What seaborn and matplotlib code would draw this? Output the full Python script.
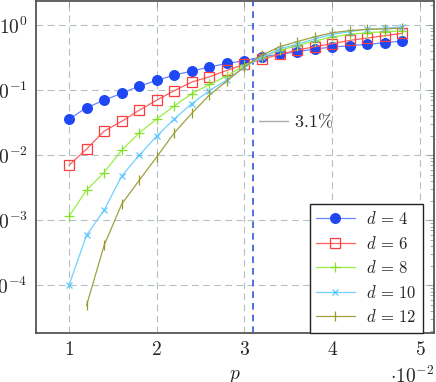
import matplotlib
matplotlib.use("Agg")
import matplotlib.pyplot as plt
import matplotlib.ticker as mticker
from matplotlib.lines import Line2D
import numpy as np
import pandas as pd
import seaborn as sns

# physical error rate p
P_ALL = [0.010, 0.012, 0.014, 0.016, 0.018, 0.020, 0.022, 0.024, 0.026, 0.028,
         0.030, 0.032, 0.034, 0.036, 0.038, 0.040, 0.042, 0.044, 0.046, 0.048]
P_D12 = P_ALL[1:]

# logical error rate, one list per distance
ERR_D4 = [0.0358, 0.0535, 0.070, 0.089, 0.115, 0.141, 0.170, 0.196, 0.226, 0.257,
          0.282, 0.326, 0.354, 0.389, 0.427, 0.459, 0.480, 0.505, 0.535, 0.567]
ERR_D6 = [0.0070, 0.0124, 0.0234, 0.033, 0.049, 0.070, 0.098, 0.133, 0.160, 0.201,
          0.248, 0.296, 0.354, 0.412, 0.464, 0.516, 0.580, 0.630, 0.685, 0.745]
ERR_D8 = [0.00115, 0.0029, 0.0054, 0.0119, 0.022, 0.036, 0.057, 0.088, 0.122, 0.165,
          0.240, 0.318, 0.410, 0.480, 0.567, 0.654, 0.720, 0.760, 0.790, 0.810]
ERR_D10 = [0.0001, 0.00059, 0.00143, 0.00475, 0.0100, 0.0196, 0.036, 0.062, 0.098, 0.143,
           0.228, 0.318, 0.430, 0.505, 0.610, 0.720, 0.790, 0.860, 0.890, 0.940]
ERR_D12 = [0.000049, 0.00041, 0.00176, 0.0041, 0.0094, 0.022, 0.044, 0.084, 0.138,
           0.228, 0.345, 0.464, 0.554, 0.660, 0.760, 0.820, 0.860, 0.870, 0.900]

THRESHOLD = 0.031
X_TICKS = [0.01, 0.02, 0.03, 0.04, 0.05]
X_TICK_LABELS = ["$1$", "$2$", "$3$", "$4$", "$5$"]
Y_TICKS = [1e-4, 1e-3, 1e-2, 1e-1, 1e0]

series = [
    (r"$d\,=\,4$", P_ALL, ERR_D4, "#1f48f5", "#6a86ff", "o", True, 7.0),
    (r"$d\,=\,6$", P_ALL, ERR_D6, "#ff3b3b", "#ff6060", "s", False, 7.0),
    (r"$d\,=\,8$", P_ALL, ERR_D8, "#84e02a", "#98ee44", "+", True, 7.0),
    (r"$d\,=\,10$", P_ALL, ERR_D10, "#5cc8ff", "#70d0ff", "x", True, 5.0),
    (r"$d\,=\,12$", P_D12, ERR_D12, "#9a9a2a", "#a0a040", "|", True, 7.0),
]

sns.set_style("white")
plt.rcParams["mathtext.fontset"] = "cm"
plt.rcParams["font.family"] = ["DejaVu Serif"]

fig = plt.figure(figsize=(4.36, 3.82), dpi=100)
ax = fig.add_axes([36 / 436, 1 - 332.7 / 382, 398 / 436, 332.2 / 382])

for label, xs, ys, mcol, lcol, mk, filled, ms in series:
    df = pd.DataFrame({"p": xs, "err": ys})
    sns.lineplot(data=df, x="p", y="err", ax=ax, color=lcol, linewidth=0.9,
                 marker=mk, markersize=ms, markeredgewidth=0.9,
                 markerfacecolor=mcol if filled else "none",
                 markeredgecolor=mcol, label=label, legend=False)

ax.axvline(THRESHOLD, color="#3355dd", linewidth=1.2, dashes=(4, 3), zorder=1)

ax.set_yscale("log")
ax.set_xlim(0.00624, 0.0516)
ax.set_ylim(1.87e-5, 2.38)

ax.xaxis.set_major_locator(mticker.FixedLocator(X_TICKS))
ax.xaxis.set_major_formatter(mticker.FixedFormatter(X_TICK_LABELS))
ax.yaxis.set_major_locator(mticker.FixedLocator(Y_TICKS))
ax.yaxis.set_major_formatter(mticker.FuncFormatter(lambda v, _: r"$10^{%d}$" % round(np.log10(v))))
ax.yaxis.set_minor_locator(mticker.LogLocator(base=10, subs=np.arange(2, 10), numticks=20))
ax.yaxis.set_minor_formatter(mticker.NullFormatter())

ax.grid(True, which="major", color="#b4c0c4", linewidth=0.8, dashes=(6, 4))
ax.set_axisbelow(True)

for s in ax.spines.values():
    s.set_color("#555555")
    s.set_linewidth(1.3)

ax.tick_params(axis="both", which="both", direction="in", color="#999999",
               top=True, right=True, labelsize=14)
ax.tick_params(axis="both", which="major", length=4, width=0.7, pad=6)
ax.tick_params(axis="y", which="minor", length=3, width=0.6)

ax.set_xlabel("$p$", fontsize=14, labelpad=6)
ax.set_ylabel("")
ax.text(1.0, -0.13, r"$\cdot 10^{-2}$", transform=ax.transAxes, ha="right",
        va="center", fontsize=14)

leg = ax.legend(loc="lower right", bbox_to_anchor=(0.973, 0.0), borderaxespad=0,
                fontsize=12, frameon=True, fancybox=False, edgecolor="#222222",
                framealpha=1, handlelength=2.3, labelspacing=0.45,
                handletextpad=0.7, borderpad=0.4)
leg.get_frame().set_linewidth(1.0)
ax.add_artist(leg)

thr_handle = Line2D([], [], color="#aaaaaa", linewidth=1.0)
ax.legend([thr_handle], [r"$3.1\%$"], loc="center left",
          bbox_to_anchor=(0.56, 0.634), frameon=False, fontsize=13,
          handlelength=1.6, handletextpad=0.35, borderpad=0, borderaxespad=0)

fig.savefig("out.png", dpi=100)
